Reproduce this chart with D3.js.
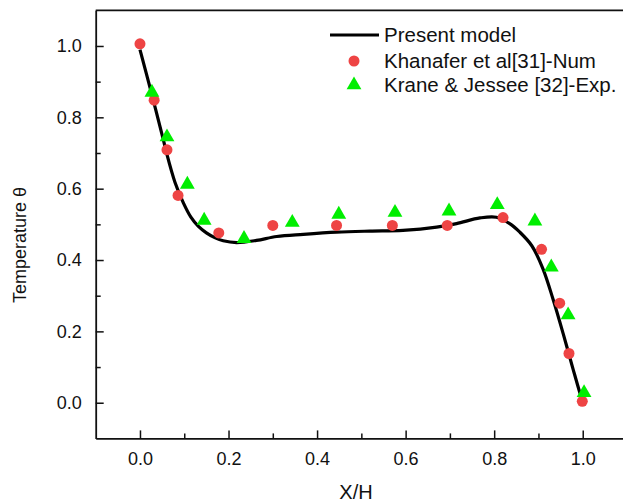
<!DOCTYPE html>
<html><head><meta charset="utf-8">
<script src="https://cdn.jsdelivr.net/npm/d3@7"></script>
<style>body{margin:0;background:#fff;}svg{display:block;}text{font-family:"Liberation Sans",Arial,sans-serif;fill:#111;}</style>
</head><body><svg id="c" width="623" height="503"></svg>
<script>
const modelX = [0, 0.028, 0.053, 0.06, 0.079, 0.098, 0.115, 0.132, 0.15, 0.17, 0.188, 0.218, 0.263, 0.309, 0.369, 0.444, 0.519, 0.594, 0.67, 0.715, 0.768, 0.805, 0.835, 0.858, 0.885, 0.91, 0.933, 0.956, 0.978, 0.993, 1.0];
const modelY = [0.99, 0.858, 0.736, 0.7, 0.618, 0.56, 0.52, 0.494, 0.476, 0.462, 0.454, 0.449, 0.455, 0.466, 0.472, 0.478, 0.481, 0.483, 0.492, 0.502, 0.518, 0.52, 0.502, 0.478, 0.44, 0.376, 0.29, 0.193, 0.095, 0.03, 0.003];
const numX = [0.0, 0.032, 0.061, 0.086, 0.178, 0.300, 0.444, 0.570, 0.694, 0.82, 0.907, 0.948, 0.969, 0.999];
const numY = [1.006, 0.848, 0.709, 0.581, 0.476, 0.497, 0.497, 0.497, 0.497, 0.519, 0.43, 0.279, 0.138, 0.004];
const expX = [0.027, 0.061, 0.107, 0.145, 0.235, 0.344, 0.449, 0.576, 0.698, 0.807, 0.892, 0.929, 0.967, 1.003];
const expY = [0.87, 0.745, 0.612, 0.511, 0.46, 0.505, 0.528, 0.533, 0.537, 0.555, 0.509, 0.38, 0.246, 0.028];
const xTicks = [0.0, 0.2, 0.4, 0.6, 0.8, 1.0];
const yTicks = [0.0, 0.2, 0.4, 0.6, 0.8, 1.0];
const legendLabels = ["Present model", "Khanafer et al[31]-Num", "Krane & Jessee [32]-Exp."];

const svg = d3.select("#c");
const x = d3.scaleLinear().domain([-0.1, 1.1]).range([95.7, 627]);
const y = d3.scaleLinear().domain([-0.1, 1.1]).range([438.4, 10.3]);

const g = svg.append("g");
g.append("line").attr("x1", x(-0.1)).attr("x2", 623).attr("y1", y(1.1)).attr("y2", y(1.1)).attr("stroke","#111").attr("stroke-width",1.8);

const xAx = g.append("g").attr("transform", `translate(0,${y(-0.1)})`)
  .call(d3.axisBottom(x).tickValues(xTicks).tickFormat(d3.format(".1f")).tickSizeInner(-8).tickSizeOuter(0).tickPadding(14));
xAx.select(".domain").attr("stroke","#111").attr("stroke-width",1.8);
xAx.selectAll(".tick line").attr("stroke","#111").attr("stroke-width",1.5);
xAx.selectAll("text").attr("font-size",18).attr("fill","#111");
const xMinor = g.append("g").attr("transform", `translate(0,${y(-0.1)})`)
  .call(d3.axisBottom(x).tickValues([0.1,0.3,0.5,0.7,0.9]).tickFormat("").tickSizeInner(-5).tickSizeOuter(0));
xMinor.select(".domain").remove();
xMinor.selectAll(".tick line").attr("stroke","#111").attr("stroke-width",1.5);

const yAx = g.append("g").attr("transform", `translate(${x(-0.1)},0)`)
  .call(d3.axisLeft(y).tickValues(yTicks).tickFormat(d3.format(".1f")).tickSizeInner(-8).tickSizeOuter(0).tickPadding(14));
yAx.select(".domain").attr("stroke","#111").attr("stroke-width",1.8);
yAx.selectAll(".tick line").attr("stroke","#111").attr("stroke-width",1.5);
yAx.selectAll("text").attr("font-size",18).attr("fill","#111");
const yMinor = g.append("g").attr("transform", `translate(${x(-0.1)},0)`)
  .call(d3.axisLeft(y).tickValues([0.1,0.3,0.5,0.7,0.9]).tickFormat("").tickSizeInner(-5).tickSizeOuter(0));
yMinor.select(".domain").remove();
yMinor.selectAll(".tick line").attr("stroke","#111").attr("stroke-width",1.5);

svg.append("text").attr("x", 356).attr("y", 499).attr("text-anchor","middle").attr("font-size",20).text("X/H");
svg.append("text").attr("transform","translate(26,245) rotate(-90)").attr("text-anchor","middle").attr("font-size",18).text("Temperature θ");

const model = modelX.map((d,i)=>[d, modelY[i]]);
svg.append("path").datum(model)
  .attr("d", d3.line().x(d=>x(d[0])).y(d=>y(d[1])).curve(d3.curveCatmullRom.alpha(0.5)))
  .attr("fill","none").attr("stroke","#000").attr("stroke-width",3.2);

const tri = d3.symbol().type(d3.symbolTriangle).size(95);
svg.append("g").selectAll("circle").data(numX.map((d,i)=>[d,numY[i]])).join("circle")
  .attr("cx", d=>x(d[0])).attr("cy", d=>y(d[1])).attr("r",5.5).attr("fill","#ee4444");
svg.append("g").selectAll("path").data(expX.map((d,i)=>[d,expY[i]])).join("path")
  .attr("d", tri).attr("transform", d=>`translate(${x(d[0])},${y(d[1])})`).attr("fill","#00ee00");

const lg = svg.append("g");
const ly = [35, 61, 85];
lg.append("line").attr("x1",330).attr("x2",379).attr("y1",ly[0]).attr("y2",ly[0]).attr("stroke","#000").attr("stroke-width",3.2);
lg.append("circle").attr("cx",354).attr("cy",ly[1]).attr("r",5.5).attr("fill","#ee4444");
lg.append("path").attr("d",tri).attr("transform",`translate(354,${ly[2]})`).attr("fill","#00ee00");
lg.selectAll("text").data(legendLabels).join("text")
  .attr("x",384).attr("y",(d,i)=>ly[i]).attr("dy","0.35em").attr("font-size",20.5).text(d=>d);
</script></body></html>
